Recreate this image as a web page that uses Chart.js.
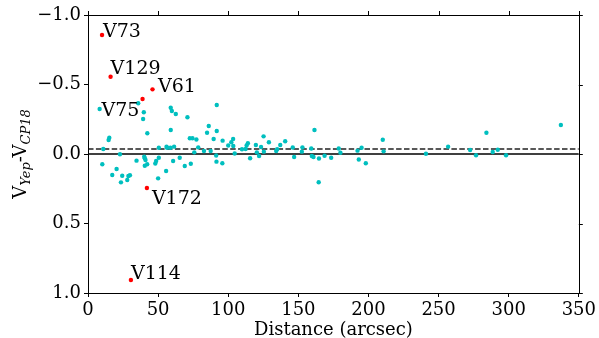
<!DOCTYPE html>
<html>
<head>
<meta charset="utf-8">
<script src="https://cdn.jsdelivr.net/npm/chart.js@4/dist/chart.umd.min.js"></script>
<style>
html,body{margin:0;padding:0;background:#fff;}
#wrap{width:599px;height:338px;position:relative;}
</style>
</head>
<body>
<div id="wrap"><canvas id="c" width="599" height="338"></canvas></div>
<script>
// ---- data ----
const distance = [8.3,10.9,10.2,14.7,15.2,17.3,20.4,22.8,23.5,24.4,28.0,28.8,29.9,34.6,35.8,39.8,39.3,42.3,40.1,40.5,41.0,42.2,40.5,48.0,48.6,50.5,50.5,50.0,56.0,56.4,55.7,58.8,59.0,59.8,62.6,59.0,61.4,60.7,65.4,69.0,70.9,72.6,74.5,77.3,73.3,75.8,78.6,82.7,87.5,84.9,86.1,91.8,91.8,89.6,91.4,91.6,95.8,96.0,100.0,103.5,102.2,103.6,104.6,109.8,112.4,113.1,114.0,115.6,119.7,120.4,122.0,123.4,125.2,125.4,129.0,134.2,134.9,137.1,140.6,146.0,147.0,152.9,152.5,159.2,159.6,160.8,161.5,164.7,164.5,168.7,173.4,178.8,180.0,192.2,193.1,195.1,198.1,210.2,210.8,241.0,256.8,272.5,276.7,284.1,288.6,292.2,298.1,337.2];
const deltaV = [-0.324,-0.036,0.074,-0.101,-0.117,0.151,0.108,0.002,0.204,0.156,0.187,0.158,0.153,0.048,-0.365,-0.300,-0.252,-0.149,0.019,0.031,0.043,0.074,0.084,0.068,0.050,0.027,-0.045,0.175,-0.053,-0.045,0.122,-0.045,-0.333,-0.309,-0.288,-0.173,-0.053,0.050,0.027,0.086,-0.264,-0.113,-0.113,-0.104,0.070,-0.012,-0.048,-0.022,-0.022,-0.153,-0.201,-0.353,-0.165,-0.108,0.011,0.055,0.067,-0.096,-0.061,-0.108,-0.084,-0.058,-0.004,-0.034,-0.036,-0.061,-0.077,0.031,-0.065,-0.012,0.014,-0.050,-0.127,-0.017,-0.084,-0.022,-0.034,-0.065,-0.092,-0.047,0.022,-0.048,-0.017,-0.040,0.014,0.022,-0.173,0.032,0.203,0.013,0.027,-0.040,-0.009,-0.024,0.040,-0.045,0.067,-0.102,-0.019,-0.002,-0.053,-0.029,0.009,-0.153,-0.014,-0.031,0.009,-0.209];
const outlierNames = ['V73','V129','V61','V75','V172','V114'];
const outlierDist = [10.0,16.1,46.0,38.9,42.0,30.6];
const outlierDV = [-0.856,-0.556,-0.465,-0.396,0.245,0.906];
const meanOffset = [-0.036];
const xTicks = [0,50,100,150,200,250,300,350];
const yTicks = [-1.0,-0.5,0.0,0.5,1.0];
const xRange = [0,350];
const yRange = [-1,1];

// ---- styles ----
const FONT = "'DejaVu Serif', serif";
const labelOffsets = { V73:[1,2], V129:[0,-3], V61:[5.5,3], V75:[-41,17.5], V172:[5,16], V114:[0,-1] };

const mainPts = distance.map((d,i)=>({x:d,y:deltaV[i]}));
const redPts = outlierDist.map((d,i)=>({x:d,y:outlierDV[i]}));

const fmt = v => { const s = Math.abs(v).toFixed(1); return (v < 0 ? '\u2212' : '') + s; };

const framePlugin = {
  id: 'frame',
  afterDraw(chart) {
    const ctx = chart.ctx, a = chart.chartArea;
    const xs = chart.scales.x, ys = chart.scales.y;
    ctx.save();
    ctx.strokeStyle = '#000';
    ctx.lineWidth = 1;
    ctx.strokeRect(Math.round(a.left)+0.5, Math.round(a.top)+0.5, Math.round(a.right-a.left), Math.round(a.bottom-a.top));
    // top and right ticks
    ctx.beginPath();
    xTicks.forEach(t => { const px = Math.round(xs.getPixelForValue(t))+0.5; ctx.moveTo(px, a.top); ctx.lineTo(px, a.top-4); });
    yTicks.forEach(t => { const py = Math.round(ys.getPixelForValue(t))+0.5; ctx.moveTo(a.right, py); ctx.lineTo(a.right+4, py); });
    ctx.stroke();
    // outlier labels
    ctx.fillStyle = '#000';
    ctx.font = "19px " + FONT;
    ctx.textAlign = 'left';
    ctx.textBaseline = 'alphabetic';
    outlierNames.forEach((n,i) => {
      const px = xs.getPixelForValue(outlierDist[i]);
      const py = ys.getPixelForValue(outlierDV[i]);
      const o = labelOffsets[n];
      ctx.fillText(n, px + o[0], py + o[1]);
    });
    // x axis title
    ctx.font = "18px " + FONT;
    ctx.textAlign = 'center';
    ctx.fillText('Distance (arcsec)', (a.left + a.right)/2, 335);
    // y axis title with subscripts
    const parts = [
      {t:'V', f:"18px " + FONT, dy:0},
      {t:'Yep', f:"italic 13px " + FONT, dy:4},
      {t:'-V', f:"18px " + FONT, dy:0},
      {t:'CP18', f:"italic 13px " + FONT, dy:4}
    ];
    let total = 0;
    parts.forEach(p => { ctx.font = p.f; p.w = ctx.measureText(p.t).width; total += p.w; });
    ctx.translate(26, (a.top + a.bottom)/2);
    ctx.rotate(-Math.PI/2);
    ctx.textAlign = 'left';
    let cx = -total/2;
    parts.forEach(p => { ctx.font = p.f; ctx.fillText(p.t, cx, p.dy); cx += p.w; });
    ctx.restore();
  }
};

new Chart(document.getElementById('c'), {
  type: 'scatter',
  data: {
    datasets: [
      { data: mainPts, backgroundColor: '#00bfbf', borderColor: '#00bfbf', pointRadius: 2.2, pointBorderWidth: 0, order: 2 },
      { data: redPts, backgroundColor: '#ff0000', borderColor: '#ff0000', pointRadius: 2.2, pointBorderWidth: 0, order: 1 },
      { type: 'line', data: [{x:xRange[0], y:meanOffset[0]},{x:xRange[1], y:meanOffset[0]}], borderColor: '#222', borderWidth: 1.5, borderDash: [5.5,2.4], pointRadius: 0, order: 3 },
      { type: 'line', data: [{x:xRange[0], y:0},{x:xRange[1], y:0}], borderColor: '#000', borderWidth: 1.5, pointRadius: 0, order: 3 }
    ]
  },
  options: {
    responsive: false,
    animation: false,
    devicePixelRatio: 1,
    layout: { padding: { top: 15, right: 19, left: 0, bottom: 0 } },
    plugins: { legend: { display: false }, tooltip: { enabled: false } },
    scales: {
      x: {
        type: 'linear', min: xRange[0], max: xRange[1],
        afterFit(s) { s.height = 45; },
        afterBuildTicks(s) { s.ticks = xTicks.map(v => ({value: v})); },
        ticks: { color: '#000', font: { family: FONT, size: 18 }, padding: 3, maxRotation: 0, autoSkip: false, callback: v => String(v) },
        grid: { display: true, drawOnChartArea: false, drawTicks: true, tickLength: 4, color: '#000', lineWidth: 1 },
        border: { display: true, color: '#000', width: 1 }
      },
      y: {
        type: 'linear', min: yRange[0], max: yRange[1], reverse: true,
        afterFit(s) { s.width = 88; },
        afterBuildTicks(s) { s.ticks = yTicks.map(v => ({value: v})); },
        ticks: { color: '#000', font: { family: FONT, size: 18 }, padding: 3, autoSkip: false, callback: v => fmt(v) },
        grid: { display: true, drawOnChartArea: false, drawTicks: true, tickLength: 4, color: '#000', lineWidth: 1 },
        border: { display: true, color: '#000', width: 1 }
      }
    }
  },
  plugins: [framePlugin]
});
</script>
</body>
</html>
